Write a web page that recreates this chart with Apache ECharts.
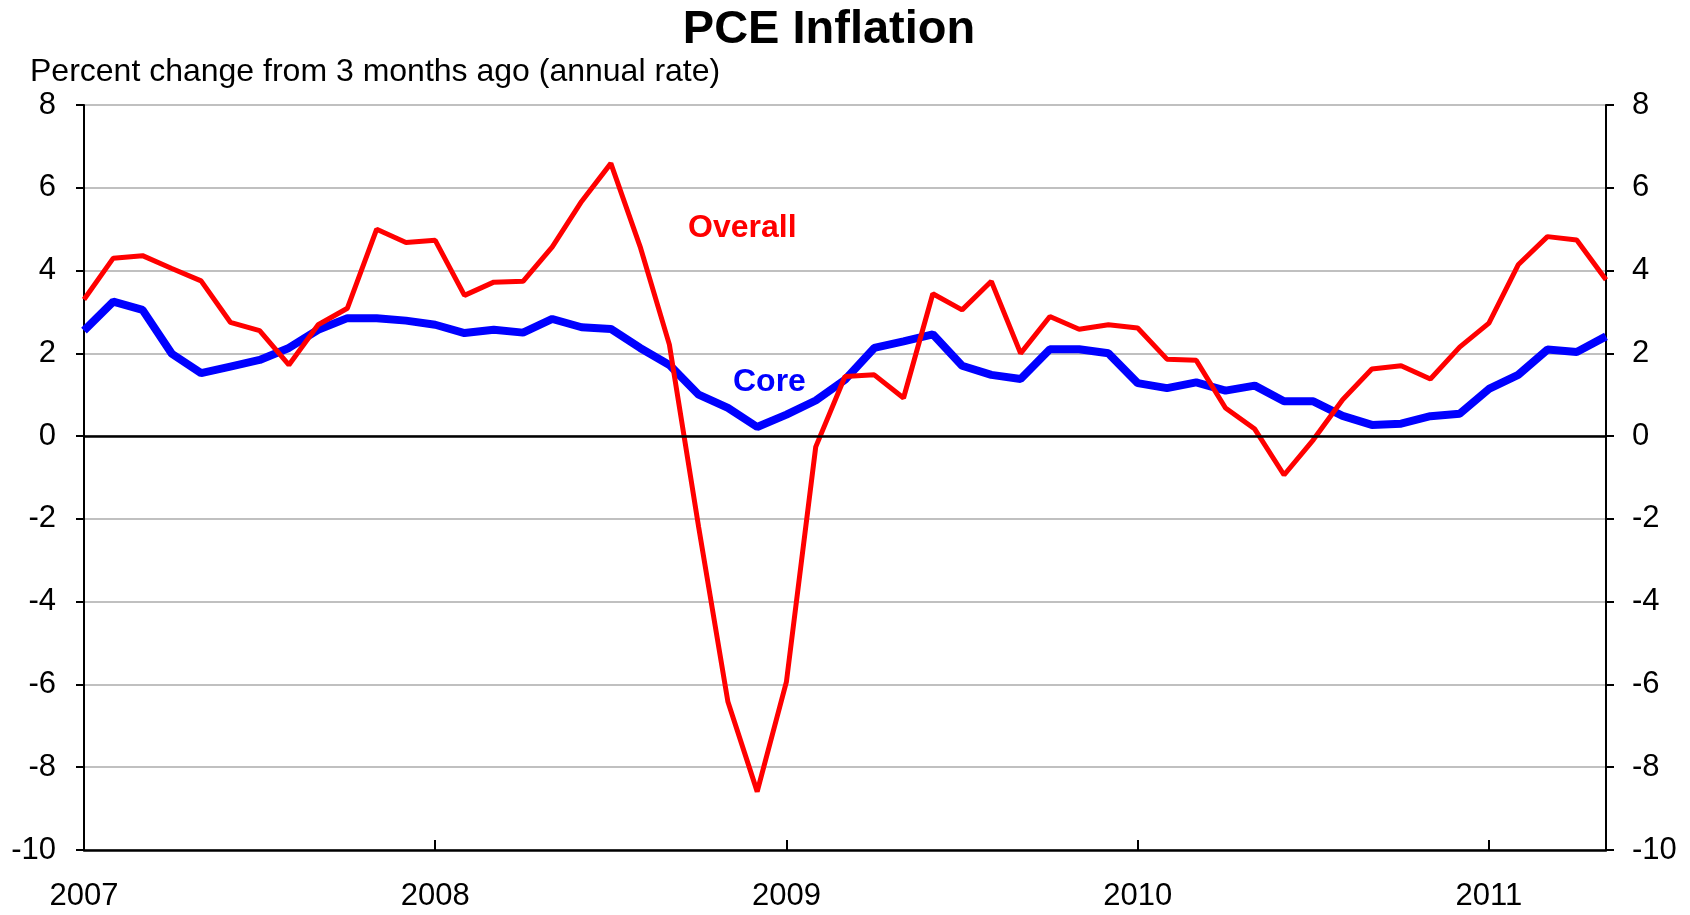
<!DOCTYPE html>
<html>
<head>
<meta charset="utf-8">
<title>PCE Inflation</title>
<script src="https://cdn.jsdelivr.net/npm/echarts@6/dist/echarts.min.js"></script>
<style>
  html, body { margin: 0; padding: 0; background: #fff; }
  #chart { width: 1690px; height: 915px; }
</style>
</head>
<body>
<div id="chart"></div>
<script>
// monthly, Jan 2007 .. May 2011
var months = [];
for (var y = 2007; y <= 2011; y++) {
  for (var m = 1; m <= 12; m++) {
    if (y === 2011 && m > 5) break;
    months.push(y + '-' + (m < 10 ? '0' + m : m));
  }
}

// percent change from 3 months ago, annual rate
var overall = [3.3, 4.3, 4.36, 4.05, 3.75, 2.75, 2.55, 1.72, 2.69, 3.09, 5.0, 4.68,
  4.73, 3.4, 3.72, 3.74, 4.57, 5.67, 6.59, 4.58, 2.21, -2.2, -6.42, -8.59,
  -5.93, -0.26, 1.44, 1.48, 0.92, 3.44, 3.05, 3.74, 2.0, 2.89, 2.58, 2.69,
  2.61, 1.86, 1.83, 0.68, 0.17, -0.94, -0.09, 0.88, 1.62, 1.7, 1.38, 2.15,
  2.73, 4.14, 4.82, 4.74, 3.78];

var core = [2.55, 3.25, 3.05, 1.99, 1.52, 1.68, 1.84, 2.13, 2.57, 2.85, 2.85, 2.79,
  2.69, 2.49, 2.57, 2.5, 2.83, 2.63, 2.59, 2.13, 1.72, 1.0, 0.68, 0.22,
  0.52, 0.86, 1.36, 2.13, 2.29, 2.46, 1.7, 1.48, 1.38, 2.1, 2.1, 2.0,
  1.28, 1.16, 1.3, 1.1, 1.22, 0.84, 0.84, 0.49, 0.27, 0.3, 0.48, 0.54,
  1.14, 1.48, 2.09, 2.03, 2.41];

var yMin = -10, yMax = 8, yStep = 2;
var font = "'Liberation Sans', Arial, sans-serif";

var chart = echarts.init(document.getElementById('chart'));

function isJan(i) { return i % 12 === 0; }

var yAxisBase = {
  type: 'value',
  min: yMin,
  max: yMax,
  interval: yStep,
  axisLine: { show: true, lineStyle: { color: '#000', width: 2 } },
  axisTick: { show: true, length: 8, lineStyle: { color: '#000', width: 2 } },
  axisLabel: { color: '#000', fontSize: 31, fontFamily: font }
};

chart.setOption({
  animation: false,
  grid: { left: 84, right: 84, top: 105, bottom: 65 },
  graphic: [
    { type: 'text', style: { text: 'PCE Inflation', x: 829, y: 30, textAlign: 'center', textVerticalAlign: 'middle',
        font: 'bold 47px ' + font, fill: '#000' } },
    { type: 'text', style: { text: 'Percent change from 3 months ago (annual rate)', x: 30, y: 72, textAlign: 'left',
        textVerticalAlign: 'middle', font: '32px ' + font, fill: '#000' } },
    { type: 'text', style: { text: 'Overall', x: 688, y: 228, textAlign: 'left', textVerticalAlign: 'middle',
        font: 'bold 32px ' + font, fill: '#ff0000' } },
    { type: 'text', style: { text: 'Core', x: 733, y: 382, textAlign: 'left', textVerticalAlign: 'middle',
        font: 'bold 32px ' + font, fill: '#0000ff' } }
  ],
  xAxis: {
    type: 'category',
    data: months,
    boundaryGap: false,
    axisLine: { onZero: false, lineStyle: { color: '#000', width: 2.5 } },
    axisTick: { interval: function (i) { return isJan(i); }, inside: true, length: 10,
      lineStyle: { color: '#000', width: 2 } },
    axisLabel: {
      interval: function (i) { return isJan(i); },
      formatter: function (v) { return v.slice(0, 4); },
      color: '#000', fontSize: 31, fontFamily: font, margin: 31
    },
    splitLine: { show: false }
  },
  yAxis: [
    Object.assign({}, yAxisBase, {
      position: 'left',
      axisLabel: Object.assign({}, yAxisBase.axisLabel, { margin: 28 }),
      splitLine: { show: true, lineStyle: { color: '#c0c0c0', width: 2 } }
    }),
    Object.assign({}, yAxisBase, {
      position: 'right',
      axisLabel: Object.assign({}, yAxisBase.axisLabel, { margin: 26 }),
      splitLine: { show: false }
    })
  ],
  series: [
    {
      name: 'Core',
      type: 'line',
      data: core,
      showSymbol: false,
      lineStyle: { color: '#0000ff', width: 8 },
      itemStyle: { color: '#0000ff' },
      markLine: {
        silent: true,
        symbol: 'none',
        label: { show: false },
        lineStyle: { color: '#000', width: 2.5, type: 'solid' },
        data: [{ yAxis: 0 }]
      }
    },
    {
      name: 'Overall',
      type: 'line',
      data: overall,
      showSymbol: false,
      lineStyle: { color: '#ff0000', width: 5 },
      itemStyle: { color: '#ff0000' }
    }
  ]
});
</script>
</body>
</html>
